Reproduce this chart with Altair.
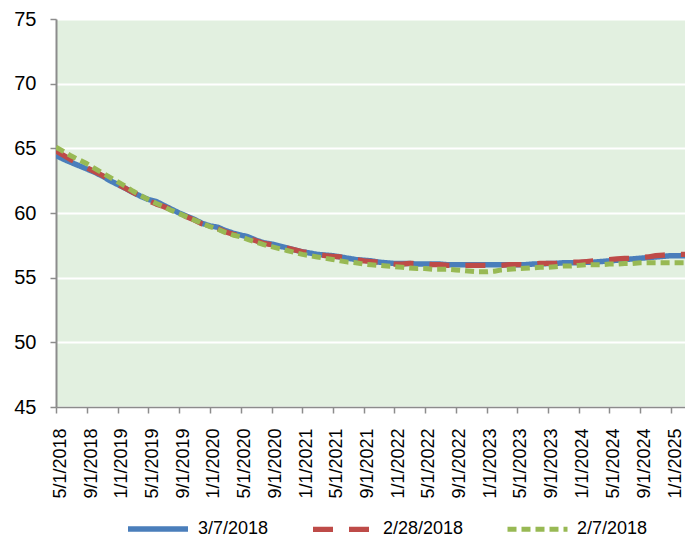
import altair as alt
import pandas as pd

# monthly dates 5/1/2018 .. 3/1/2025
months = pd.date_range("2018-05-01", "2025-03-01", freq="MS").strftime("%Y-%m-%d").tolist()

series_names = ["3/7/2018", "2/28/2018", "2/7/2018"]

blue = [
    64.45, 64.15, 63.9, 63.65, 63.4, 63.15, 62.85, 62.5,
    62.2, 61.9, 61.6, 61.3, 61.05, 60.9, 60.6, 60.3, 60.0, 59.75, 59.5, 59.2,
    59.0, 58.9, 58.65, 58.45, 58.3, 58.15, 57.9, 57.7, 57.6, 57.45, 57.3, 57.15,
    57.0, 56.9, 56.8, 56.75, 56.7, 56.6, 56.5, 56.4, 56.35, 56.3, 56.2, 56.15,
    56.1, 56.1, 56.1, 56.05, 56.05, 56.05, 56.05, 56.0, 56.0, 56.0, 56.0, 56.0,
    56.0, 56.0, 56.0, 56.0, 56.0, 56.0, 56.05, 56.05, 56.1, 56.1, 56.15, 56.15,
    56.15, 56.2, 56.2, 56.25, 56.3, 56.35, 56.4, 56.45, 56.5, 56.55, 56.6, 56.65,
    56.7, 56.7, 56.7,
]
red = [
    64.8, 64.45, 64.1, 63.8, 63.5, 63.2, 62.9, 62.55,
    62.2, 61.9, 61.6, 61.3, 60.95, 60.7, 60.5, 60.25, 60.0, 59.7, 59.45, 59.15,
    58.95, 58.8, 58.55, 58.35, 58.25, 58.05, 57.85, 57.65, 57.55, 57.4, 57.3, 57.15,
    57.0, 56.9, 56.8, 56.7, 56.65, 56.6, 56.5, 56.4, 56.3, 56.25, 56.2, 56.1,
    56.05, 56.05, 56.1, 56.1, 56.05, 56.0, 56.0, 55.95, 55.95, 55.95, 55.95, 55.95,
    55.95, 55.95, 55.95, 56.0, 56.0, 56.0, 56.05, 56.1, 56.1, 56.1, 56.15, 56.2,
    56.2, 56.25, 56.3, 56.35, 56.4, 56.45, 56.5, 56.5, 56.55, 56.6, 56.7, 56.75,
    56.8, 56.8, 56.8,
]
green = [
    65.1, 64.75, 64.4, 64.1, 63.8, 63.45, 63.1, 62.75,
    62.4, 62.05, 61.7, 61.35, 61.05, 60.75, 60.5, 60.2, 59.95, 59.7, 59.45, 59.2,
    58.95, 58.75, 58.5, 58.3, 58.15, 57.95, 57.75, 57.55, 57.4, 57.25, 57.1, 56.95,
    56.8, 56.7, 56.6, 56.5, 56.4, 56.3, 56.2, 56.15, 56.05, 56.0, 55.95, 55.9,
    55.85, 55.8, 55.75, 55.7, 55.7, 55.65, 55.65, 55.65, 55.6, 55.55, 55.5, 55.45,
    55.45, 55.5, 55.6, 55.65, 55.7, 55.72, 55.75, 55.8, 55.8, 55.85, 55.9, 55.9,
    55.95, 56.0, 56.0, 56.0, 56.05, 56.05, 56.1, 56.1, 56.15, 56.15, 56.15, 56.15,
    56.15, 56.15, 56.15,
]

tick_dates = pd.date_range("2018-05-01", "2025-01-01", freq="4MS").strftime("%Y-%m-%d").tolist()

colors = ["#4A7EBB", "#BE4B48", "#98B954"]
dashes = [[1, 0], [20, 16], [9, 5]]
widths = [5.5, 5, 3.5]

rows = []
for name, vals in zip(series_names, [blue, red, green]):
    for d, v in zip(months, vals):
        rows.append({"date": d, "value": v, "series": name})
df = pd.DataFrame(rows)

FONT = "Liberation Sans"

x_enc = alt.X(
    "date:T",
    scale=alt.Scale(domain=["2018-05-01", "2025-02-25"], nice=False),
    axis=alt.Axis(
        values=tick_dates,
        format="%-m/%-d/%Y",
        labelAngle=270,
        labelAlign="right",
        labelBaseline="middle",
        labelFontSize=18,
        labelFont=FONT,
        labelColor="#000000",
        labelPadding=15,
        labelOffset=4,
        tickSize=6,
        tickColor="#8c8c8c",
        tickWidth=1.5,
        domainColor="#8c8c8c",
        domainWidth=1.5,
        grid=False,
        title=None,
        labelOverlap=False,
    ),
)
y_enc = alt.Y(
    "value:Q",
    scale=alt.Scale(domain=[45, 75], nice=False, zero=False),
    axis=alt.Axis(
        values=[45, 50, 55, 60, 65, 70, 75],
        labelFontSize=20,
        labelFont=FONT,
        labelColor="#000000",
        labelPadding=14,
        tickSize=6,
        tickColor="#8c8c8c",
        tickWidth=1.5,
        domainColor="#8c8c8c",
        domainWidth=2,
        grid=True,
        gridColor="#ffffff",
        gridWidth=2,
        title=None,
    ),
)

legend = alt.Legend(
    title=None,
    orient="none",
    legendX=69,
    legendY=477,
    direction="horizontal",
    symbolType="stroke",
    symbolSize=3600,
    labelFontSize=18,
    labelFont=FONT,
    labelColor="#000000",
    columnPadding=33,
    labelOffset=7,
)

color_enc = alt.Color("series:N", scale=alt.Scale(domain=series_names, range=colors), legend=legend)
dash_enc = alt.StrokeDash("series:N", scale=alt.Scale(domain=series_names, range=dashes), legend=legend)
width_enc = alt.StrokeWidth("series:N", scale=alt.Scale(domain=series_names, range=widths), legend=legend)

layers = []
for name in series_names:
    layers.append(
        alt.Chart(df)
        .transform_filter(alt.datum.series == name)
        .mark_line(strokeCap="butt", strokeJoin="round", clip=True)
        .encode(x=x_enc, y=y_enc, color=color_enc, strokeDash=dash_enc, strokeWidth=width_enc)
    )

chart = (
    alt.layer(*layers)
    .properties(
        width=629,
        height=388,
        autosize=alt.AutoSizeParams(type="none"),
        padding={"left": 48, "top": 11, "right": 0, "bottom": 130},
        background="#ffffff",
    )
    .configure_view(fill="#E2F0E0", strokeWidth=0)
)

chart.save("out.html", embed_options={"renderer": "svg", "actions": False})
